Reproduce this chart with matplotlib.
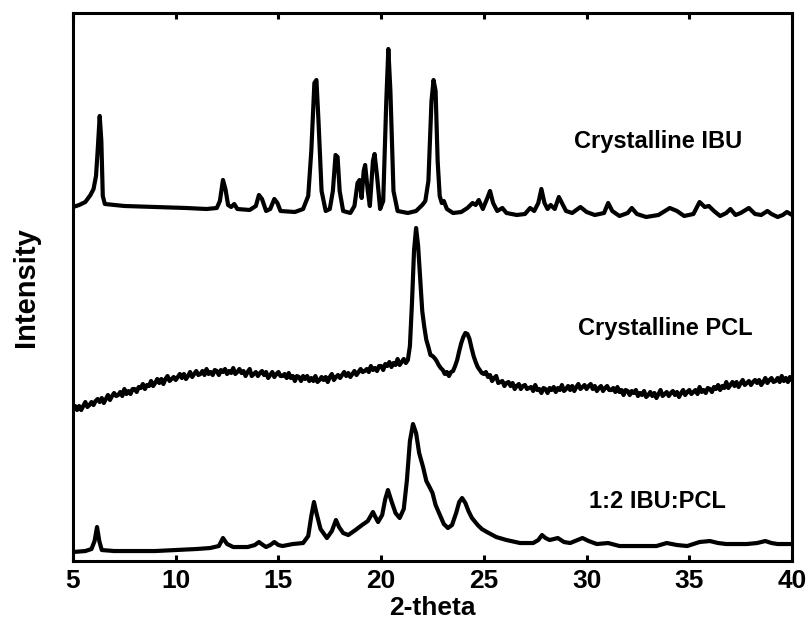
import numpy as np
import matplotlib
matplotlib.use("Agg")
import matplotlib.pyplot as plt

plt.rcParams['font.family'] = ['Liberation Sans', 'DejaVu Sans']
plt.rcParams['font.weight'] = 'bold'

# XRD traces: (2-theta, intensity in arbitrary offset units)
ibu = [(5.0, 354), (5.3, 356), (5.6, 359), (5.85, 366), (6.0, 372), (6.12, 385),
       (6.2, 410), (6.3, 445), (6.38, 420), (6.45, 365), (6.55, 357), (7.5, 355),
       (9.0, 354), (10.5, 353), (11.5, 352), (12.0, 353), (12.15, 360), (12.3, 381),
       (12.42, 372), (12.55, 356), (12.7, 354), (12.85, 357), (13.0, 352), (13.6, 351),
       (13.9, 355), (14.05, 366), (14.2, 362), (14.4, 350), (14.6, 352), (14.8, 362),
       (14.95, 358), (15.1, 350), (15.8, 349), (16.2, 352), (16.45, 365), (16.6, 410),
       (16.75, 478), (16.85, 481), (16.95, 440), (17.1, 370), (17.3, 350), (17.5, 352),
       (17.65, 370), (17.78, 406), (17.88, 404), (17.98, 370), (18.15, 350), (18.5, 348),
       (18.7, 355), (18.85, 378), (18.95, 381), (19.05, 363), (19.15, 390), (19.22, 396),
       (19.35, 370), (19.45, 355), (19.6, 400), (19.68, 407), (19.8, 385), (19.95, 352),
       (20.1, 360), (20.25, 460), (20.35, 512), (20.45, 470), (20.6, 370), (20.8, 350),
       (21.3, 348), (21.7, 350), (22.0, 356), (22.15, 360), (22.3, 380), (22.45, 460),
       (22.55, 481), (22.65, 470), (22.75, 400), (22.85, 365), (22.95, 358), (23.05, 360),
       (23.2, 352), (23.5, 348), (23.9, 349), (24.2, 353), (24.45, 358), (24.6, 356),
       (24.75, 361), (24.95, 352), (25.15, 362), (25.3, 370), (25.45, 358), (25.65, 350),
       (25.9, 353), (26.1, 348), (26.6, 346), (27.0, 347), (27.25, 353), (27.45, 350),
       (27.65, 358), (27.8, 372), (27.95, 358), (28.1, 352), (28.25, 356), (28.45, 352),
       (28.65, 364), (28.8, 358), (29.0, 350), (29.3, 348), (29.7, 354), (30.0, 349),
       (30.4, 346), (30.85, 348), (31.05, 358), (31.25, 350), (31.6, 345), (32.0, 348),
       (32.2, 353), (32.45, 347), (32.9, 344), (33.5, 346), (34.05, 353), (34.4, 350),
       (34.75, 345), (35.2, 347), (35.5, 359), (35.75, 354), (35.95, 355), (36.2, 350),
       (36.5, 345), (36.8, 348), (37.0, 352), (37.25, 346), (37.5, 348), (37.9, 353),
       (38.2, 347), (38.5, 346), (38.8, 350), (39.0, 347), (39.3, 344), (39.55, 346),
       (39.75, 349), (40.0, 346)]

# PCL scan, 0.1 deg steps from 5 to 40 (one row per degree)
pcl_2theta = np.linspace(5, 40, 351)
pcl_counts = [
    151, 155, 151, 155, 151, 155, 159, 154, 156, 159,   # 5
    156, 160, 162, 159, 163, 158, 162, 166, 161, 165,   # 6
    168, 165, 166, 169, 165, 172, 167, 170, 167, 172,   # 7
    172, 169, 174, 173, 177, 172, 176, 175, 180, 175,   # 8
    178, 182, 178, 182, 177, 182, 185, 180, 182, 184,   # 9
    181, 184, 187, 183, 187, 182, 185, 189, 184, 187,   # 10
    190, 186, 187, 190, 186, 192, 187, 189, 186, 191,   # 11
    190, 186, 191, 189, 192, 187, 190, 188, 193, 187,   # 12
    189, 192, 188, 190, 185, 189, 192, 185, 187, 189,   # 13
    185, 188, 190, 186, 189, 183, 186, 189, 184, 187,   # 14
    189, 185, 185, 187, 183, 188, 183, 185, 180, 185,   # 15
    184, 180, 185, 182, 185, 180, 183, 180, 185, 179,   # 16
    181, 184, 181, 184, 179, 184, 187, 181, 184, 186,   # 17
    183, 186, 189, 185, 188, 184, 187, 190, 186, 189,   # 18
    192, 189, 190, 192, 189, 195, 191, 193, 190, 195,   # 19
    195, 191, 197, 195, 199, 194, 198, 196, 202, 196,   # 20
    199, 202, 198, 201, 215, 258, 310, 333, 315, 282,   # 21
    250, 234, 221, 214, 206, 205, 203, 200, 196, 193,   # 22
    191, 187, 189, 185, 189, 190, 195, 201, 210, 218,   # 23
    224, 228, 227, 222, 213, 205, 199, 194, 191, 188,   # 24
    187, 189, 184, 186, 180, 183, 185, 178, 179, 180,   # 25
    175, 178, 179, 175, 178, 172, 175, 177, 172, 175,   # 26
    176, 172, 173, 174, 170, 176, 171, 172, 168, 173,   # 27
    172, 168, 173, 171, 174, 169, 173, 171, 176, 170,   # 28
    172, 175, 171, 175, 170, 174, 177, 172, 174, 176,   # 29
    172, 175, 177, 172, 175, 170, 173, 175, 170, 173,   # 30
    175, 171, 171, 173, 169, 174, 169, 171, 166, 171,   # 31
    170, 166, 170, 168, 171, 165, 168, 166, 170, 164,   # 32
    166, 169, 165, 168, 163, 167, 171, 165, 167, 169,   # 33
    165, 168, 170, 166, 169, 164, 168, 171, 166, 169,   # 34
    171, 167, 169, 171, 167, 174, 169, 171, 168, 173,   # 35
    172, 169, 174, 172, 176, 171, 175, 173, 179, 173,   # 36
    176, 179, 175, 179, 174, 178, 181, 176, 178, 180,   # 37
    176, 179, 181, 178, 181, 176, 179, 183, 178, 181,   # 38
    183, 179, 180, 183, 179, 185, 180, 183, 179, 184,   # 39
    181,                                                # 40
]

mix = [(5.0, 9), (5.6, 10), (5.9, 12), (6.05, 20), (6.17, 34), (6.28, 20), (6.4, 11),
       (7.0, 10), (9.0, 10), (11.0, 12), (11.67, 13), (12.1, 15), (12.3, 23), (12.5, 17),
       (12.8, 14), (13.5, 14), (13.85, 16), (14.05, 19), (14.25, 16), (14.4, 14),
       (14.6, 16), (14.8, 19), (15.0, 16), (15.2, 15), (15.7, 17), (16.2, 18), (16.45, 25),
       (16.6, 45), (16.73, 59), (16.85, 48), (17.05, 32), (17.36, 23), (17.6, 30),
       (17.8, 41), (17.95, 34), (18.15, 28), (18.4, 26), (18.75, 31), (19.07, 36),
       (19.35, 40), (19.6, 49), (19.72, 44), (19.85, 39), (20.05, 46), (20.2, 62),
       (20.33, 71), (20.5, 60), (20.7, 48), (20.9, 43), (21.1, 52), (21.25, 80),
       (21.4, 120), (21.55, 137), (21.7, 128), (21.85, 108), (22.04, 94), (22.2, 80),
       (22.38, 73), (22.5, 68), (22.65, 56), (22.86, 46), (23.05, 37), (23.25, 33),
       (23.45, 36), (23.65, 48), (23.8, 59), (23.94, 63), (24.1, 58), (24.25, 50),
       (24.42, 43), (24.7, 36), (24.9, 32), (25.15, 29), (25.6, 24), (26.1, 21),
       (26.76, 18), (27.4, 18), (27.65, 21), (27.83, 26), (28.0, 23), (28.2, 21),
       (28.6, 23), (28.9, 19), (29.2, 18), (29.8, 23), (30.1, 20), (30.5, 17),
       (31.05, 18), (31.6, 15), (32.5, 15), (33.4, 15), (33.9, 18), (34.4, 16),
       (34.9, 15), (35.5, 19), (36.0, 20), (36.4, 18), (36.8, 17), (37.8, 17),
       (38.3, 18), (38.7, 20), (39.0, 18), (39.3, 17), (40.0, 17)]

labels = ['Crystalline IBU', 'Crystalline PCL', '1:2 IBU:PCL']
label_pos = [(29.39, 413), (29.59, 226), (30.12, 53)]

fig = plt.figure(figsize=(8.12, 6.33), dpi=100)
ax = fig.add_axes([0.0899, 0.1137, 0.8855, 0.8658])

ibu = np.array(ibu)
mix = np.array(mix)
ax.plot(ibu[:, 0], ibu[:, 1], color='black', lw=3.0, solid_joinstyle='round')
ax.plot(pcl_2theta, pcl_counts, color='black', lw=3.0, solid_joinstyle='round')
ax.plot(mix[:, 0], mix[:, 1], color='black', lw=3.0, solid_joinstyle='round')

for text, (x, y) in zip(labels, label_pos):
    ax.text(x, y, text, fontsize=17, fontweight='bold', ha='left', va='baseline')

ax.set_xlim(5, 40)
ax.set_ylim(0, 548)
ax.set_xticks(np.arange(5, 41, 5))
ax.set_yticks([])
ax.tick_params(axis='x', direction='in', top=True, length=4, width=2.2,
               labelsize=19, pad=6)
for lab in ax.get_xticklabels():
    lab.set_fontweight('bold')
for sp in ax.spines.values():
    sp.set_linewidth(2.2)

ax.set_xlabel('2-theta', fontsize=19, fontweight='bold', labelpad=2)
ax.set_ylabel('Intensity', fontsize=21, fontweight='bold', labelpad=24)

plt.savefig('out.png', dpi=100)
